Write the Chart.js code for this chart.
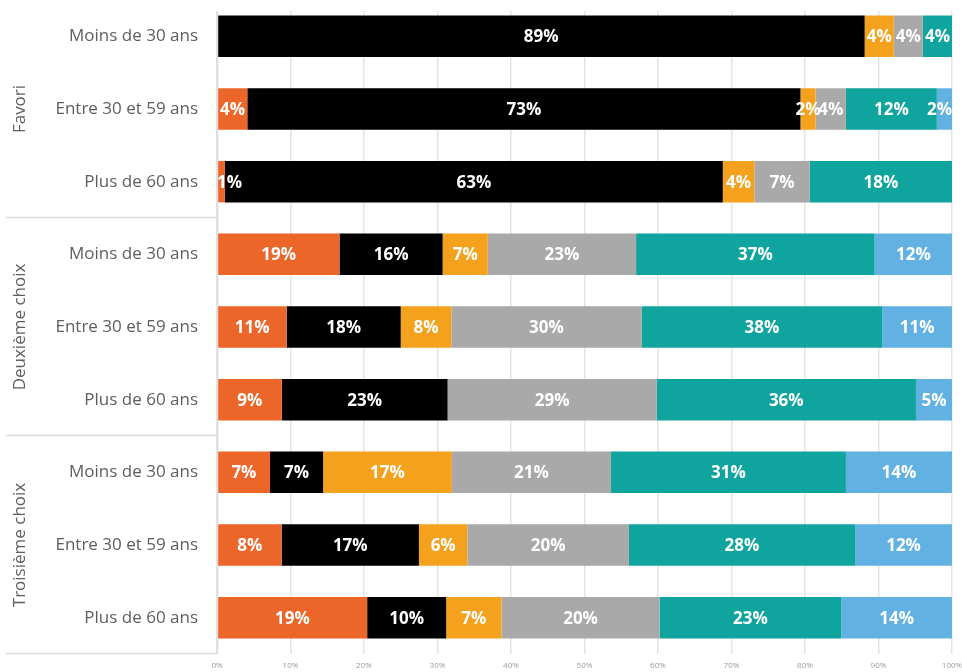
<!DOCTYPE html>
<html lang="fr">
<head>
<meta charset="utf-8">
<title>Choix par tranche d'âge</title>
<script src="https://cdn.jsdelivr.net/npm/chart.js@4"></script>
<style>
  html, body { margin: 0; padding: 0; background: #ffffff; }
  #wrap { width: 962px; height: 672px; position: relative; }
</style>
</head>
<body>
<div id="wrap"><canvas id="chart" width="962" height="672"></canvas></div>
<script>
// Rows: three age bands inside each choice rank
const ageBands = ['Moins de 30 ans', 'Entre 30 et 59 ans', 'Plus de 60 ans'];
const groups = ['Favori', 'Deuxième choix', 'Troisième choix'];
const categories = [
  'Moins de 30 ans', 'Entre 30 et 59 ans', 'Plus de 60 ans',
  'Moins de 30 ans', 'Entre 30 et 59 ans', 'Plus de 60 ans',
  'Moins de 30 ans', 'Entre 30 et 59 ans', 'Plus de 60 ans'
];

// Percentages per answer, one value per row (as labelled on the bars)
const serieOrange = [0, 4, 1, 19, 11, 9, 7, 8, 19];
const serieNoir   = [89, 73, 63, 16, 18, 23, 7, 17, 10];
const serieAmbre  = [4, 2, 4, 7, 8, 0, 17, 6, 7];
const serieGris   = [4, 4, 7, 23, 30, 29, 21, 20, 20];
const serieTurq   = [4, 12, 18, 37, 38, 36, 31, 28, 23];
const serieBleu   = [0, 2, 0, 12, 11, 5, 14, 12, 14];

const xTicks = [0, 10, 20, 30, 40, 50, 60, 70, 80, 90, 100];

const series = [
  { name: 'Réponse 1', values: serieOrange, color: '#EC6529' },
  { name: 'Réponse 2', values: serieNoir,   color: '#000000' },
  { name: 'Réponse 3', values: serieAmbre,  color: '#F4A11E' },
  { name: 'Réponse 4', values: serieGris,   color: '#A9A9A9' },
  { name: 'Réponse 5', values: serieTurq,   color: '#10A49E' },
  { name: 'Réponse 6', values: serieBleu,   color: '#62B1E3' }
];

// 100 % stacked: each row is scaled to its own total
const rowTotals = categories.map((_, i) =>
  series.reduce((s, d) => s + d.values[i], 0));

const datasets = series.map(s => ({
  label: s.name,
  data: s.values.map((v, i) => v / rowTotals[i] * 100),
  rawValues: s.values,
  backgroundColor: s.color,
  borderWidth: 0,
  categoryPercentage: 1,
  barPercentage: 0.57
}));

const FONT = '"Open Sans", "Noto Sans", sans-serif';
const TEXT_GREY = '#5e5e5e';
const LINE_GREY = '#dcdcdc';

// Hides the grid above the plot's first gridline row
const topTrim = {
  id: 'topTrim',
  beforeDatasetsDraw(chart) {
    const { ctx, chartArea } = chart;
    ctx.save();
    ctx.fillStyle = '#ffffff';
    ctx.fillRect(chartArea.left - 1, 0, chartArea.right - chartArea.left + 3, 11);
    ctx.restore();
  }
};

// White value labels centred in each segment
const segmentLabels = {
  id: 'segmentLabels',
  afterDatasetsDraw(chart) {
    const { ctx, chartArea } = chart;
    ctx.save();
    ctx.font = 'bold 17px ' + FONT;
    ctx.fillStyle = '#ffffff';
    ctx.textAlign = 'center';
    ctx.textBaseline = 'middle';
    chart.data.datasets.forEach((ds, di) => {
      const meta = chart.getDatasetMeta(di);
      meta.data.forEach((bar, i) => {
        const v = ds.rawValues[i];
        if (!v) return;
        const { x, base, y } = bar.getProps(['x', 'base', 'y'], true);
        const text = v + '%';
        let cx = (x + base) / 2;
        const half = ctx.measureText(text).width / 2;
        // keep narrow labels inside the plot edges
        if (cx - half < chartArea.left) cx = chartArea.left + half;
        if (cx + half > chartArea.right) cx = chartArea.right - half;
        ctx.fillText(text, cx, y + 1);
      });
    });
    ctx.restore();
  }
};

// Rank labels on the left and the lines between the rank blocks
const groupLabels = {
  id: 'groupLabels',
  afterDraw(chart) {
    const { ctx, chartArea } = chart;
    const yScale = chart.scales.y;
    const band = (chartArea.bottom - chartArea.top) / categories.length;
    ctx.save();
    ctx.strokeStyle = LINE_GREY;
    ctx.lineWidth = 1.5;
    // vertical axis line
    ctx.beginPath();
    ctx.moveTo(chartArea.left + 0.5, 11);
    ctx.lineTo(chartArea.left + 0.5, chartArea.bottom);
    ctx.stroke();
    // separators after each block of three rows
    groups.forEach((g, gi) => {
      const lastRow = gi * ageBands.length + ageBands.length - 1;
      const yLine = Math.round(yScale.getPixelForValue(lastRow) + band / 2) - 0.5;
      ctx.beginPath();
      ctx.moveTo(6, yLine);
      ctx.lineTo(chartArea.left, yLine);
      ctx.stroke();
    });
    // rotated block titles
    ctx.fillStyle = TEXT_GREY;
    ctx.font = '17px ' + FONT;
    ctx.textAlign = 'center';
    ctx.textBaseline = 'middle';
    groups.forEach((g, gi) => {
      const mid = yScale.getPixelForValue(gi * ageBands.length + 1);
      ctx.save();
      ctx.translate(20, mid);
      ctx.rotate(-Math.PI / 2);
      ctx.fillText(g, 0, 0);
      ctx.restore();
    });
    ctx.restore();
  }
};

new Chart(document.getElementById('chart'), {
  type: 'bar',
  data: { labels: categories, datasets },
  options: {
    indexAxis: 'y',
    responsive: false,
    animation: false,
    layout: { padding: { top: -1, right: 10, bottom: 0, left: 0 } },
    plugins: {
      legend: { display: false },
      tooltip: { enabled: false }
    },
    scales: {
      x: {
        stacked: true,
        min: 0,
        max: 100,
        afterBuildTicks(scale) {
          scale.ticks = xTicks.map(v => ({ value: v }));
        },
        afterFit(scale) {
          scale.height = 18;
          scale.paddingLeft = 0;
          scale.paddingRight = 0;
        },
        ticks: {
          callback: v => v + '%',
          font: { family: FONT, size: 8 },
          color: '#9a9a9a',
          padding: 7,
          maxRotation: 0
        },
        grid: {
          color: '#e4e4e4',
          lineWidth: 1.5,
          drawTicks: false
        },
        border: { display: false }
      },
      y: {
        stacked: true,
        afterFit(scale) {
          scale.width = 217;
          scale.paddingTop = 0;
          scale.paddingBottom = 0;
        },
        ticks: {
          font: { family: FONT, size: 17 },
          color: TEXT_GREY,
          padding: 19
        },
        grid: { display: false, drawTicks: false },
        border: { display: false }
      }
    }
  },
  plugins: [topTrim, segmentLabels, groupLabels]
});
</script>
</body>
</html>
